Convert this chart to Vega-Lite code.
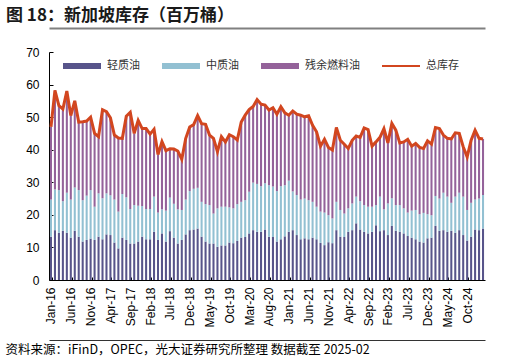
{
"$schema": "https://vega.github.io/schema/vega-lite/v6.json",
"width": 436, "height": 228,
"autosize": {"type": "none"},
"padding": {"left": 49, "top": 52, "right": 31, "bottom": 81},
"background": "white",
"config": {"view": {"stroke": null}},
"title": {"text": "图 18：新加坡库存（百万桶）", "anchor": "start", "frame": "group", "dx": -43, "offset": 3, "fontSize": 17, "fontWeight": "bold", "font": "Noto Sans CJK SC", "color": "#1a1a1a"},
"data": {"values": [
{"month":"Jan-16","轻质油":13.3,"中质油":11.4,"残余燃料油":22.3,"总库存":47.0},
{"month":"Feb-16","轻质油":15.3,"中质油":12.5,"残余燃料油":30.4,"总库存":58.2},
{"month":"Mar-16","轻质油":14.5,"中质油":13.1,"残余燃料油":25.9,"总库存":53.5},
{"month":"Apr-16","轻质油":15.1,"中质油":9.1,"残余燃料油":28.3,"总库存":52.5},
{"month":"May-16","轻质油":14.5,"中质油":12.3,"残余燃料油":31.2,"总库存":58.0},
{"month":"Jun-16","轻质油":13.0,"中质油":11.7,"残余燃料油":25.8,"总库存":50.5},
{"month":"Jul-16","轻质油":15.1,"中质油":13.3,"残余燃料油":26.6,"总库存":55.0},
{"month":"Aug-16","轻质油":13.3,"中质油":14.3,"残余燃料油":20.9,"总库存":48.5},
{"month":"Sep-16","轻质油":11.8,"中质油":12.7,"残余燃料油":24.1,"总库存":48.6},
{"month":"Oct-16","轻质油":12.3,"中质油":13.6,"残余燃料油":22.9,"总库存":48.8},
{"month":"Nov-16","轻质油":12.7,"中质油":14.9,"残余燃料油":22.4,"总库存":50.0},
{"month":"Dec-16","轻质油":12.3,"中质油":10.2,"残余燃料油":22.5,"总库存":45.0},
{"month":"Jan-17","轻质油":13.3,"中质油":13.3,"残余燃料油":17.4,"总库存":44.0},
{"month":"Feb-17","轻质油":12.5,"中质油":12.6,"残余燃料油":27.2,"总库存":52.3},
{"month":"Mar-17","轻质油":14.0,"中质油":12.6,"残余燃料油":25.1,"总库存":51.7},
{"month":"Apr-17","轻质油":13.8,"中质油":12.2,"残余燃料油":23.8,"总库存":49.8},
{"month":"May-17","轻质油":11.5,"中质油":13.2,"残余燃料油":19.8,"总库存":44.5},
{"month":"Jun-17","轻质油":9.7,"中质油":11.3,"残余燃料油":22.6,"总库存":43.6},
{"month":"Jul-17","轻质油":13.0,"中质油":13.4,"残余燃料油":17.1,"总库存":43.5},
{"month":"Aug-17","轻质油":12.3,"中质油":13.1,"残余燃料油":24.9,"总库存":50.3},
{"month":"Sep-17","轻质油":11.2,"中质油":10.6,"残余燃料油":29.7,"总库存":51.5},
{"month":"Oct-17","轻质油":11.2,"中质油":11.8,"残余燃料油":22.0,"总库存":45.0},
{"month":"Nov-17","轻质油":11.8,"中质油":11.0,"残余燃料油":26.2,"总库存":49.0},
{"month":"Dec-17","轻质油":13.3,"中质油":9.4,"残余燃料油":23.8,"总库存":46.5},
{"month":"Jan-18","轻质油":12.5,"中质油":9.3,"残余燃料油":24.7,"总库存":46.5},
{"month":"Feb-18","轻质油":12.5,"中质油":9.3,"残余燃料油":23.0,"总库存":44.8},
{"month":"Mar-18","轻质油":14.8,"中质油":10.8,"残余燃料油":20.7,"总库存":46.3},
{"month":"Apr-18","轻质油":12.3,"中质油":8.4,"残余燃料油":17.8,"总库存":38.5},
{"month":"May-18","轻质油":14.3,"中质油":7.4,"残余燃料油":20.8,"总库存":42.5},
{"month":"Jun-18","轻质油":11.8,"中质油":9.5,"残余燃料油":18.4,"总库存":39.7},
{"month":"Jul-18","轻质油":15.0,"中质油":10.3,"残余燃料油":15.0,"总库存":40.3},
{"month":"Aug-18","轻质油":13.0,"中质油":10.4,"残余燃料油":16.8,"总库存":40.2},
{"month":"Sep-18","轻质油":11.2,"中质油":10.5,"残余燃料油":17.9,"总库存":39.6},
{"month":"Oct-18","轻质油":12.3,"中质油":9.2,"残余燃料油":15.6,"总库存":37.1},
{"month":"Nov-18","轻质油":14.0,"中质油":10.7,"残余燃料油":18.8,"总库存":43.5},
{"month":"Dec-18","轻质油":15.3,"中质油":12.0,"残余燃料油":19.7,"总库存":47.0},
{"month":"Jan-19","轻质油":15.5,"中质油":12.5,"残余燃料油":19.7,"总库存":47.7},
{"month":"Feb-19","轻质油":15.8,"中质油":12.5,"残余燃料油":22.2,"总库存":50.5},
{"month":"Mar-19","轻质油":13.3,"中质油":10.7,"残余燃料油":24.0,"总库存":48.0},
{"month":"Apr-19","轻质油":11.8,"中质油":11.5,"残余燃料油":24.5,"总库存":47.8},
{"month":"May-19","轻质油":11.2,"中质油":11.8,"残余燃料油":21.5,"总库存":44.5},
{"month":"Jun-19","轻质油":11.2,"中质油":9.2,"残余燃料油":23.1,"总库存":43.5},
{"month":"Jul-19","轻质油":10.2,"中质油":11.8,"残余燃料油":17.4,"总库存":39.4},
{"month":"Aug-19","轻质油":10.6,"中质油":11.9,"残余燃料油":21.5,"总库存":44.0},
{"month":"Sep-19","轻质油":10.6,"中质油":11.9,"残余燃料油":19.9,"总库存":42.4},
{"month":"Oct-19","轻质油":11.5,"中质油":10.8,"残余燃料油":22.3,"总库存":44.6},
{"month":"Nov-19","轻质油":11.3,"中质油":10.7,"残余燃料油":22.0,"总库存":44.0},
{"month":"Dec-19","轻质油":12.0,"中质油":11.3,"残余燃料油":19.7,"总库存":43.0},
{"month":"Jan-20","轻质油":13.0,"中质油":11.0,"残余燃料油":24.5,"总库存":48.5},
{"month":"Feb-20","轻质油":13.2,"中质油":11.3,"残余燃料油":26.1,"总库存":50.6},
{"month":"Mar-20","轻质油":14.3,"中质油":12.8,"残余燃料油":25.2,"总库存":52.3},
{"month":"Apr-20","轻质油":15.3,"中质油":14.6,"残余燃料油":23.4,"总库存":53.3},
{"month":"May-20","轻质油":14.8,"中质油":14.7,"残余燃料油":25.9,"总库存":55.4},
{"month":"Jun-20","轻质油":14.8,"中质油":14.0,"残余燃料油":25.2,"总库存":54.0},
{"month":"Jul-20","轻质油":15.5,"中质油":14.2,"残余燃料油":24.0,"总库存":53.7},
{"month":"Aug-20","轻质油":13.3,"中质油":15.8,"残余燃料油":23.1,"总库存":52.2},
{"month":"Sep-20","轻质油":13.2,"中质油":15.5,"残余燃料油":24.2,"总库存":52.9},
{"month":"Oct-20","轻质油":11.8,"中质油":15.5,"残余燃料油":23.6,"总库存":50.9},
{"month":"Nov-20","轻质油":12.5,"中质油":16.3,"残余燃料油":24.4,"总库存":53.2},
{"month":"Dec-20","轻质油":13.4,"中质油":15.7,"残余燃料油":22.2,"总库存":51.3},
{"month":"Jan-21","轻质油":14.8,"中质油":15.7,"残余燃料油":20.1,"总库存":50.6},
{"month":"Feb-21","轻质油":15.3,"中质油":11.9,"残余燃料油":24.7,"总库存":51.9},
{"month":"Mar-21","轻质油":13.8,"中质油":12.3,"残余燃料油":24.8,"总库存":50.9},
{"month":"Apr-21","轻质油":12.5,"中质油":12.2,"残余燃料油":25.9,"总库存":50.6},
{"month":"May-21","轻质油":12.8,"中质油":12.2,"残余燃料油":25.1,"总库存":50.1},
{"month":"Jun-21","轻质油":12.5,"中质油":12.0,"残余燃料油":25.9,"总库存":50.4},
{"month":"Jul-21","轻质油":13.0,"中质油":11.0,"残余燃料油":23.5,"总库存":47.5},
{"month":"Aug-21","轻质油":12.5,"中质油":10.0,"残余燃料油":23.0,"总库存":45.5},
{"month":"Sep-21","轻质油":11.4,"中质油":9.6,"残余燃料油":20.1,"总库存":41.1},
{"month":"Oct-21","轻质油":10.7,"中质油":10.0,"残余燃料油":22.5,"总库存":43.2},
{"month":"Nov-21","轻质油":11.6,"中质油":8.3,"残余燃料油":20.8,"总库存":40.7},
{"month":"Dec-21","轻质油":11.3,"中质油":7.6,"残余燃料油":21.0,"总库存":39.9},
{"month":"Jan-22","轻质油":15.3,"中质油":8.7,"残余燃料油":22.8,"总库存":46.8},
{"month":"Feb-22","轻质油":13.3,"中质油":8.2,"残余燃料油":21.4,"总库存":42.9},
{"month":"Mar-22","轻质油":13.2,"中质油":7.2,"残余燃料油":21.3,"总库存":41.7},
{"month":"Apr-22","轻质油":14.8,"中质油":7.2,"残余燃料油":18.4,"总库存":40.4},
{"month":"May-22","轻质油":15.3,"中质油":8.2,"残余燃料油":19.4,"总库存":42.9},
{"month":"Jun-22","轻质油":17.4,"中质油":8.2,"残余燃料油":18.6,"总库存":44.2},
{"month":"Jul-22","轻质油":15.5,"中质油":8.7,"残余燃料油":19.6,"总库存":43.8},
{"month":"Aug-22","轻质油":14.8,"中质油":8.2,"残余燃料油":23.7,"总库存":46.7},
{"month":"Sep-22","轻质油":14.3,"中质油":8.2,"残余燃料油":23.7,"总库存":46.2},
{"month":"Oct-22","轻质油":14.8,"中质油":7.7,"残余燃料油":18.6,"总库存":41.1},
{"month":"Nov-22","轻质油":16.8,"中质油":6.2,"残余燃料油":19.4,"总库存":42.4},
{"month":"Dec-22","轻质油":15.0,"中质油":10.6,"残余燃料油":18.2,"总库存":43.8},
{"month":"Jan-23","轻质油":15.3,"中质油":6.4,"残余燃料油":24.8,"总库存":46.5},
{"month":"Feb-23","轻质油":13.8,"中质油":9.7,"残余燃料油":18.6,"总库存":42.1},
{"month":"Mar-23","轻质油":16.6,"中质油":8.5,"残余燃料油":23.0,"总库存":48.1},
{"month":"Apr-23","轻质油":15.1,"中质油":7.9,"残余燃料油":23.0,"总库存":46.0},
{"month":"May-23","轻质油":14.8,"中质油":8.2,"残余燃料油":19.1,"总库存":42.1},
{"month":"Jun-23","轻质油":14.3,"中质油":7.7,"残余燃料油":20.4,"总库存":42.4},
{"month":"Jul-23","轻质油":13.5,"中质油":7.2,"残余燃料油":22.5,"总库存":43.2},
{"month":"Aug-23","轻质油":13.0,"中质油":8.3,"残余燃料油":19.8,"总库存":41.1},
{"month":"Sep-23","轻质油":12.5,"中质油":9.0,"残余燃料油":20.4,"总库存":41.9},
{"month":"Oct-23","轻质油":11.8,"中质油":8.4,"残余燃料油":20.5,"总库存":40.7},
{"month":"Nov-23","轻质油":11.5,"中质油":9.1,"残余燃料油":19.8,"总库存":40.4},
{"month":"Dec-23","轻质油":12.8,"中质油":7.4,"残余燃料油":22.5,"总库存":42.7},
{"month":"Jan-24","轻质油":13.0,"中质油":6.9,"残余燃料油":21.8,"总库存":41.7},
{"month":"Feb-24","轻质油":16.6,"中质油":9.2,"残余燃料油":21.0,"总库存":46.8},
{"month":"Mar-24","轻质油":15.1,"中质油":9.9,"残余燃料油":21.5,"总库存":46.5},
{"month":"Apr-24","轻质油":15.3,"中质油":11.5,"残余燃料油":17.7,"总库存":44.5},
{"month":"May-24","轻质油":14.8,"中质油":10.8,"残余燃料油":17.9,"总库存":43.5},
{"month":"Jun-24","轻质油":15.1,"中质油":8.6,"残余燃料油":19.6,"总库存":43.3},
{"month":"Jul-24","轻质油":14.5,"中质油":11.1,"残余燃料油":19.6,"总库存":45.2},
{"month":"Aug-24","轻质油":15.3,"中质油":11.5,"残余燃料油":18.2,"总库存":45.0},
{"month":"Sep-24","轻质油":13.8,"中质油":11.8,"残余燃料油":15.3,"总库存":40.9},
{"month":"Oct-24","轻质油":12.1,"中质油":9.4,"残余燃料油":16.3,"总库存":37.8},
{"month":"Nov-24","轻质油":13.3,"中质油":10.4,"残余燃料油":19.2,"总库存":42.9},
{"month":"Dec-24","轻质油":15.5,"中质油":9.2,"残余燃料油":21.3,"总库存":46.0},
{"month":"Jan-25","轻质油":15.3,"中质油":9.7,"残余燃料油":18.5,"总库存":43.5},
{"month":"Feb-25","轻质油":15.8,"中质油":10.3,"残余燃料油":17.2,"总库存":43.3}
]},
"layer": [
{
"transform": [
{"fold": ["轻质油", "中质油", "残余燃料油"], "as": ["series", "value"]},
{"window": [{"op": "row_number", "as": "stack_rank"}], "groupby": ["month"]}
],
"mark": {"type": "bar"},
"encoding": {
"x": {"field": "month", "type": "ordinal", "sort": null,
"scale": {"paddingInner": 0.48, "paddingOuter": 0.24},
"axis": {"orient": "bottom", "values": ["Jan-16","Jun-16","Nov-16","Apr-17","Sep-17","Feb-18","Jul-18","Dec-18","May-19","Oct-19","Mar-20","Aug-20","Jan-21","Jun-21","Nov-21","Apr-22","Sep-22","Feb-23","Jul-23","Dec-23","May-24","Oct-24"],
"labelAngle": -90, "labelFont": "Liberation Sans", "labelFontSize": 12, "labelColor": "black", "labelPadding": 10,
"domainColor": "black", "domainWidth": 1, "tickColor": "black", "tickSize": -3, "tickBand": "extent", "grid": false,
"title": "资料来源：iFinD，OPEC，光大证券研究所整理 数据截至 2025-02",
"titleX": -44, "titleY": 69, "titleAlign": "left", "titleAnchor": "start", "titleBaseline": "middle", "titleAngle": 0,
"titleFont": "Noto Sans CJK SC", "titleFontSize": 12.5, "titleFontWeight": "normal", "titleColor": "black"}},
"y": {"field": "value", "type": "quantitative", "stack": "zero",
"scale": {"domain": [0, 70], "nice": false},
"axis": {"title": null, "values": [0,10,20,30,40,50,60,70], "grid": false, "domainColor": "black", "tickColor": "black", "tickSize": -4, "labelPadding": 14, "labelFont": "Liberation Sans", "labelFontSize": 12, "labelColor": "black"}},
"color": {"field": "series", "type": "nominal",
"scale": {"domain": ["轻质油", "中质油", "残余燃料油", "总库存"], "range": ["#57548a", "#92c0d2", "#94629a", "#d2461f"]},
"legend": {"orient": "none", "legendX": 14, "legendY": -5, "direction": "horizontal", "title": null, "padding": 0,
"symbolType": "M-1,-0.16H1V0.16H-1Z", "symbolSize": 1444, "symbolStrokeWidth": 0,
"labelFont": "Noto Sans CJK SC", "labelFontSize": 11, "labelColor": "#333333", "labelOffset": 6, "columnPadding": 22,
"encode": {"symbols": {"update": {"shape": {"signal": "datum.value === '总库存' ? 'M-1,-0.05H1V0.05H-1Z' : 'M-1,-0.16H1V0.16H-1Z'"}, "fill": {"scale": "color", "field": "value"}, "stroke": {"value": "transparent"}, "opacity": {"value": 1}}}}}},
"order": {"field": "stack_rank", "type": "quantitative"}
}
},
{
"mark": {"type": "line", "strokeWidth": 3},
"encoding": {
"x": {"field": "month", "type": "ordinal", "sort": null,
"scale": {"paddingInner": 0.48, "paddingOuter": 0.24},
"axis": {"orient": "top", "offset": 24, "domainColor": "#808080", "domainWidth": 2, "labels": false, "ticks": false, "grid": false, "title": null}},
"y": {"field": "总库存", "type": "quantitative",
"axis": {"title": null, "values": [0,10,20,30,40,50,60,70], "grid": false, "domainColor": "black", "tickColor": "black", "tickSize": -4, "labelPadding": 14, "labelFont": "Liberation Sans", "labelFontSize": 12, "labelColor": "black"}},
"color": {"datum": "总库存",
"legend": {"orient": "none", "legendX": 14, "legendY": -5, "direction": "horizontal", "title": null, "padding": 0,
"symbolType": "M-1,-0.16H1V0.16H-1Z", "symbolSize": 1444, "symbolStrokeWidth": 0,
"labelFont": "Noto Sans CJK SC", "labelFontSize": 11, "labelColor": "#333333", "labelOffset": 6, "columnPadding": 22,
"encode": {"symbols": {"update": {"shape": {"signal": "datum.value === '总库存' ? 'M-1,-0.05H1V0.05H-1Z' : 'M-1,-0.16H1V0.16H-1Z'"}, "fill": {"scale": "color", "field": "value"}, "stroke": {"value": "transparent"}, "opacity": {"value": 1}}}}}}
}
},
{
"mark": {"type": "line", "opacity": 0},
"encoding": {
"x": {"field": "month", "type": "ordinal", "sort": null,
"scale": {"paddingInner": 0.48, "paddingOuter": 0.24},
"axis": {"orient": "bottom", "offset": 60, "domainColor": "#333333", "domainWidth": 1, "labels": false, "ticks": false, "grid": false, "title": null}},
"y": {"field": "总库存", "type": "quantitative",
"axis": {"title": null, "values": [0,10,20,30,40,50,60,70], "grid": false, "domainColor": "black", "tickColor": "black", "tickSize": -4, "labelPadding": 14, "labelFont": "Liberation Sans", "labelFontSize": 12, "labelColor": "black"}}
}
}
],
"resolve": {"scale": {"x": "independent"}, "axis": {"x": "independent"}}
}
